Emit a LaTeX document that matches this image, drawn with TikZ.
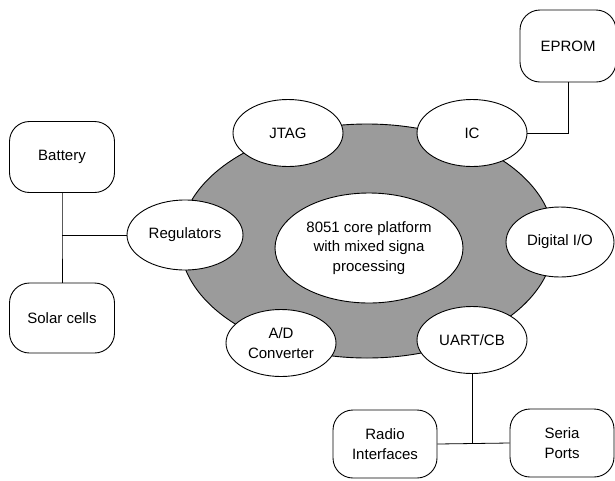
\documentclass[tikz,border=0pt]{standalone}
\usepackage{fontspec}
\setmainfont{Liberation Sans}
\usetikzlibrary{shapes.geometric}
\definecolor{platgray}{RGB}{155,155,155}
\tikzset{
  lbl/.style={font=\fontsize{15}{19.5}\selectfont, align=center, text=black},
  oval/.style={ellipse, draw, line width=0.9pt, fill=white, inner sep=0pt, lbl},
  rbox/.style={rectangle, rounded corners=20pt, draw, line width=0.9pt, fill=white, inner sep=0pt, lbl},
  wire/.style={line width=0.8pt}
}
\begin{document}
\begin{tikzpicture}[x=1pt,y=-1pt]
\useasboundingbox (0,0) rectangle (615,480);
% platform
\node[ellipse, draw, line width=0.9pt, fill=platgray, minimum width=374pt, minimum height=234pt, inner sep=0pt] (plat) at (367,241) {};
\node[oval, minimum width=188pt, minimum height=110pt] (core) at (369,248) {8051 core platform\\with mixed signa\\processing};
% satellites
\node[oval, minimum width=110pt, minimum height=67pt] (JTAG) at (288,133) {JTAG};
\node[oval, minimum width=110pt, minimum height=67pt] (IC) at (472,133) {IC};
\node[oval, minimum width=116pt, minimum height=70pt] (REG) at (185,235) {Regulators};
\node[oval, minimum width=108pt, minimum height=70pt] (DIO) at (560,242) {Digital I/O};
\node[oval, minimum width=110pt, minimum height=67pt] (AD) at (281,343) {A/D\\Converter};
\node[oval, minimum width=110pt, minimum height=67pt] (UART) at (472,340) {UART/CB};
% boxes
\node[rbox, minimum width=105pt, minimum height=71pt] (BAT) at (62,157) {Battery};
\node[rbox, minimum width=105pt, minimum height=70pt] (SOL) at (62,318) {Solar cells};
\node[rbox, minimum width=96pt, minimum height=72pt] (EPROM) at (568,46) {EPROM};
\node[rbox, minimum width=104pt, minimum height=68pt] (RADIO) at (385,444) {Radio\\Interfaces};
\node[rbox, minimum width=104pt, minimum height=68pt] (SER) at (562,443) {Seria\\Ports};
% connectors
\coordinate (j1) at (62,235);
\coordinate (j2) at (472,443);
\draw[wire] (BAT.south) -- (j1) -- (SOL.north);
\draw[wire] (j1) -- (REG.west);
\draw[wire] (EPROM.south) |- (IC.east);
\draw[wire] (UART.south) -- (j2);
\draw[wire] (RADIO.east) -- (SER.west);
\end{tikzpicture}
\end{document}
